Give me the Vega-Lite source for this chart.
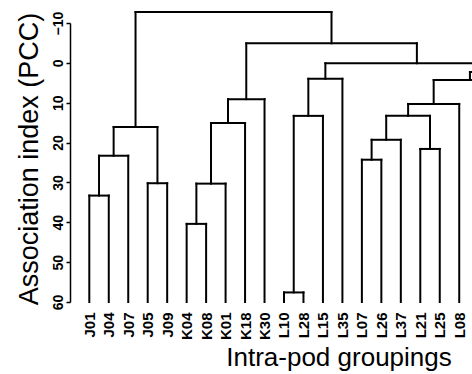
{
  "$schema": "https://vega.github.io/schema/vega-lite/v6.json",
  "width": 402,
  "height": 279,
  "autosize": {"type": "none"},
  "padding": {"left": 70, "top": 23, "right": 0, "bottom": 72},
  "background": "white",
  "config": {
    "view": {"stroke": null},
    "font": "Liberation Sans"
  },
  "data": {
    "values": [
      {"node": "J01-J04", "left": 0, "right": 1, "height": 33.3, "leftHeight": 60, "rightHeight": 60},
      {"node": "J01-J07", "left": 0.5, "right": 2, "height": 23.3, "leftHeight": 33.3, "rightHeight": 60},
      {"node": "J05-J09", "left": 3, "right": 4, "height": 30.2, "leftHeight": 60, "rightHeight": 60},
      {"node": "J", "left": 1.25, "right": 3.5, "height": 16.1, "leftHeight": 23.3, "rightHeight": 30.2},
      {"node": "K04-K08", "left": 5, "right": 6, "height": 40.4, "leftHeight": 60, "rightHeight": 60},
      {"node": "K04-K01", "left": 5.5, "right": 7, "height": 30.3, "leftHeight": 40.4, "rightHeight": 60},
      {"node": "K04-K18", "left": 6.25, "right": 8, "height": 15.1, "leftHeight": 30.3, "rightHeight": 60},
      {"node": "K", "left": 7.125, "right": 9, "height": 9.1, "leftHeight": 15.1, "rightHeight": 60},
      {"node": "L10-L28", "left": 10, "right": 11, "height": 57.6, "leftHeight": 60, "rightHeight": 60},
      {"node": "L10-L15", "left": 10.5, "right": 12, "height": 13.3, "leftHeight": 57.6, "rightHeight": 60},
      {"node": "L10-L35", "left": 11.25, "right": 13, "height": 4.0, "leftHeight": 13.3, "rightHeight": 60},
      {"node": "L07-L26", "left": 14, "right": 15, "height": 24.3, "leftHeight": 60, "rightHeight": 60},
      {"node": "L07-L37", "left": 14.5, "right": 16, "height": 19.3, "leftHeight": 24.3, "rightHeight": 60},
      {"node": "L21-L25", "left": 17, "right": 18, "height": 21.6, "leftHeight": 60, "rightHeight": 60},
      {"node": "L07-L25", "left": 15.25, "right": 17.5, "height": 13.3, "leftHeight": 19.3, "rightHeight": 21.6},
      {"node": "L07-L08", "left": 16.375, "right": 19, "height": 10.3, "leftHeight": 13.3, "rightHeight": 60},
      {"node": "L07-off1", "left": 17.6875, "right": 21.4125, "height": 4.3, "leftHeight": 10.3, "rightHeight": 20},
      {"node": "L07-off2", "left": 19.55, "right": 23.5, "height": 2.3, "leftHeight": 4.3, "rightHeight": 20},
      {"node": "L", "left": 12.125, "right": 21.525, "height": 0.1, "leftHeight": 4.0, "rightHeight": 2.3},
      {"node": "K-L", "left": 8.0625, "right": 16.825, "height": -4.9, "leftHeight": 9.1, "rightHeight": 0.1},
      {"node": "root", "left": 2.375, "right": 12.44, "height": -12.75, "leftHeight": 16.1, "rightHeight": -4.9}
    ]
  },
  "resolve": {"axis": {"x": "independent", "y": "independent"}},
  "layer": [
    {
      "mark": {"type": "rule", "clip": false, "strokeWidth": 2, "color": "black", "strokeCap": "square"},
      "encoding": {
        "x": {
          "field": "left", "type": "quantitative",
          "scale": {"domain": [-0.991, 19.656], "nice": false, "zero": false},
          "axis": {
            "title": "Intra-pod groupings",
            "values": [0,1,2,3,4,5,6,7,8,9,10,11,12,13,14,15,16,17,18,19],
            "labelExpr": "['J01','J04','J07','J05','J09','K04','K08','K01','K18','K30','L10','L28','L15','L35','L07','L26','L37','L21','L25','L08'][datum.value]",
            "domain": false, "ticks": false, "grid": false,
            "labelAngle": 270, "labelAlign": "right", "labelBaseline": "middle",
            "labelPadding": 10, "labelFontWeight": "bold", "labelFontSize": 15,
            "labelColor": "black", "labelFont": "Liberation Sans",
            "labelBound": false, "labelOverlap": false, "labelFlush": false,
            "titleFont": "Liberation Sans", "titleFontSize": 26, "titleFontWeight": "normal",
            "titleColor": "black", "titleX": 268.5, "titleY": 63,
            "titleAlign": "center", "titleBaseline": "alphabetic"
          }
        },
        "x2": {"field": "right"},
        "y": {
          "field": "height", "type": "quantitative",
          "scale": {"domain": [-10, 60], "reverse": true, "nice": false, "zero": false},
          "axis": {
            "title": "Association index (PCC)",
            "values": [-10, 0, 10, 20, 30, 40, 50, 60],
            "domain": true, "domainColor": "black", "domainWidth": 1.5,
            "grid": false, "ticks": true,
            "tickSize": 4, "tickColor": "black", "tickWidth": 1.5,
            "labelAngle": 270, "labelAlign": "center", "labelBaseline": "alphabetic",
            "labelPadding": 4, "labelFontWeight": "bold", "labelFontSize": 14,
            "labelColor": "black", "labelFont": "Liberation Sans",
            "labelBound": false, "labelOverlap": false, "labelFlush": false,
            "titleFont": "Liberation Sans", "titleFontSize": 27, "titleFontWeight": "normal",
            "titleColor": "black", "titleX": -33, "titleY": 135.5, "titleAngle": 270,
            "titleAlign": "center", "titleBaseline": "alphabetic"
          }
        }
      }
    },
    {
      "mark": {"type": "rule", "clip": false, "strokeWidth": 2, "color": "black", "strokeCap": "square"},
      "encoding": {
        "x": {"field": "left", "type": "quantitative", "axis": null},
        "y": {"field": "leftHeight", "type": "quantitative", "axis": null},
        "y2": {"field": "height"}
      }
    },
    {
      "mark": {"type": "rule", "clip": false, "strokeWidth": 2, "color": "black", "strokeCap": "square"},
      "encoding": {
        "x": {"field": "right", "type": "quantitative", "axis": null},
        "y": {"field": "rightHeight", "type": "quantitative", "axis": null},
        "y2": {"field": "height"}
      }
    }
  ]
}
